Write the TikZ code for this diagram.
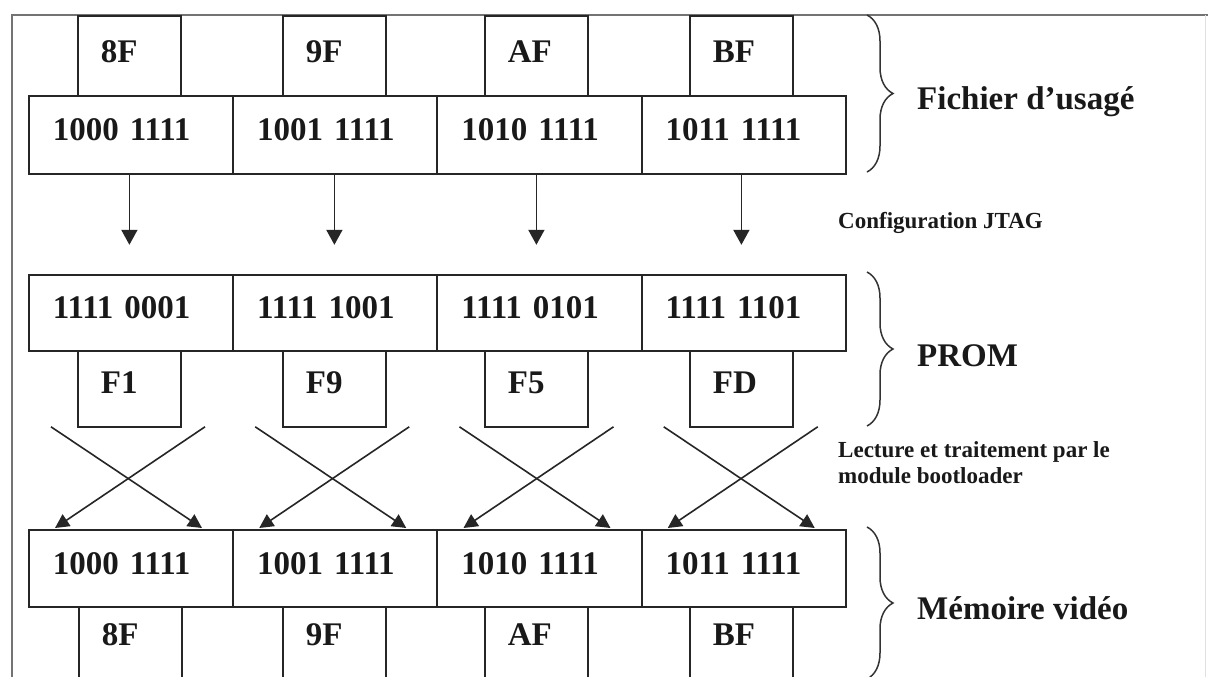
\documentclass[tikz,border=0pt]{standalone}
\usepackage{fontspec}
\setmainfont{Liberation Serif}
\usetikzlibrary{arrows.meta,calc,decorations.pathreplacing}

\begin{document}
\begin{tikzpicture}[x=1pt,y=-1pt,
  every node/.style={text=black!90},
  bigtxt/.style={font=\bfseries\fontsize{33}{39}\selectfont},
  smalltxt/.style={font=\bfseries\fontsize{23}{26.5}\selectfont},
  wide/.style={bigtxt, draw=black!85, line width=1.8pt, anchor=north west,
    inner xsep=24pt, inner ysep=0pt, text width=156pt, align=left,
    text height=22pt, text depth=10pt},
  byte/.style={bigtxt, draw=black!85, line width=1.8pt, anchor=north west,
    inner xsep=23pt, inner ysep=0pt, text width=57pt, align=left,
    text height=22pt},
  varr/.style={line width=1.8pt, draw=black!85, -{Triangle[length=15pt,width=16pt]}},
  xarr/.style={line width=1.6pt, draw=black!85, -{Triangle[length=14pt,width=14pt]}},
  bracket/.style={line width=1.5pt, draw=black!80, decorate,
    decoration={brace, amplitude=26pt}},
  frame/.style={line width=1.6pt, draw=black!55}
]
\useasboundingbox (0,0) rectangle (1208,677);
\clip (0,0) rectangle (1208,677);
\fill[white] (0,0) rectangle (1208,677);

% outer frame
\draw[frame] (12,677) -- (12,15) -- (1208,15);
\draw[line width=1pt, draw=black!12] (1205,15) -- (1205,677);

% ---- usage file ----
\node[byte, minimum height=80pt, text depth=8pt] (t1) at (77,15)  {8F};
\node[byte, minimum height=80pt, text depth=8pt] (t2) at (282,15) {9F};
\node[byte, minimum height=80pt, text depth=8pt] (t3) at (484,15) {AF};
\node[byte, minimum height=80pt, text depth=8pt] (t4) at (689,15) {BF};

\node[wide, minimum height=78pt] (u1) at (28,95)     {1000 1111};
\node[wide, minimum height=78pt] (u2) at (232.25,95) {1001 1111};
\node[wide, minimum height=78pt] (u3) at (436.5,95)  {1010 1111};
\node[wide, minimum height=78pt] (u4) at (640.75,95) {1011 1111};

% ---- PROM ----
\node[wide, minimum height=76pt] (p1) at (28,274)     {1111 0001};
\node[wide, minimum height=76pt] (p2) at (232.25,274) {1111 1001};
\node[wide, minimum height=76pt] (p3) at (436.5,274)  {1111 0101};
\node[wide, minimum height=76pt] (p4) at (640.75,274) {1111 1101};

\node[byte, minimum height=76pt, text depth=12pt] (f1) at (77,350)  {F1};
\node[byte, minimum height=76pt, text depth=12pt] (f2) at (282,350) {F9};
\node[byte, minimum height=76pt, text depth=12pt] (f3) at (484,350) {F5};
\node[byte, minimum height=76pt, text depth=12pt] (f4) at (689,350) {FD};

% ---- video memory ----
\node[wide, minimum height=77pt] (m1) at (28,529)     {1000 1111};
\node[wide, minimum height=77pt] (m2) at (232.25,529) {1001 1111};
\node[wide, minimum height=77pt] (m3) at (436.5,529)  {1010 1111};
\node[wide, minimum height=77pt] (m4) at (640.75,529) {1011 1111};

\node[byte, minimum height=90pt, text depth=34pt] (v1) at (78,606)  {8F};
\node[byte, minimum height=90pt, text depth=34pt] (v2) at (282,606) {9F};
\node[byte, minimum height=90pt, text depth=34pt] (v3) at (484,606) {AF};
\node[byte, minimum height=90pt, text depth=34pt] (v4) at (689,606) {BF};

% JTAG transfer arrows
\foreach \i in {1,...,4} {
  \coordinate (j\i) at ($(t\i.south |- u\i.south)+(0,70)$);
  \draw[varr] (t\i.south |- u\i.south) -- (j\i);
}

% bootloader swap (crossed arrows)
\foreach \i in {1,...,4} {
  \draw[xarr] ($(p\i.south west)+(23,75)$)  -- ($(m\i.north west)+(174,-1)$);
  \draw[xarr] ($(p\i.south west)+(177,75)$) -- ($(m\i.north west)+(27,-1)$);
}

% braces and captions
\draw[bracket] (867,15)  -- (867,172);
\draw[bracket] (867,272) -- (867,426);
\draw[bracket] (867,527) -- (867,679);

\node[bigtxt, anchor=base west, inner sep=0pt] (cap1) at (917,110) {Fichier d’usagé};
\node[bigtxt, anchor=base west, inner sep=0pt] (cap2) at (917,366) {PROM};
\node[bigtxt, anchor=base west, inner sep=0pt] (cap3) at (917,619) {Mémoire vidéo};

\node[smalltxt, anchor=base west, inner sep=0pt] (jtag) at (838,228) {Configuration JTAG};
\node[smalltxt, anchor=north west, inner sep=0pt, align=left] (boot) at (838,441)
  {Lecture et traitement par le\\module bootloader};
\end{tikzpicture}
\end{document}
